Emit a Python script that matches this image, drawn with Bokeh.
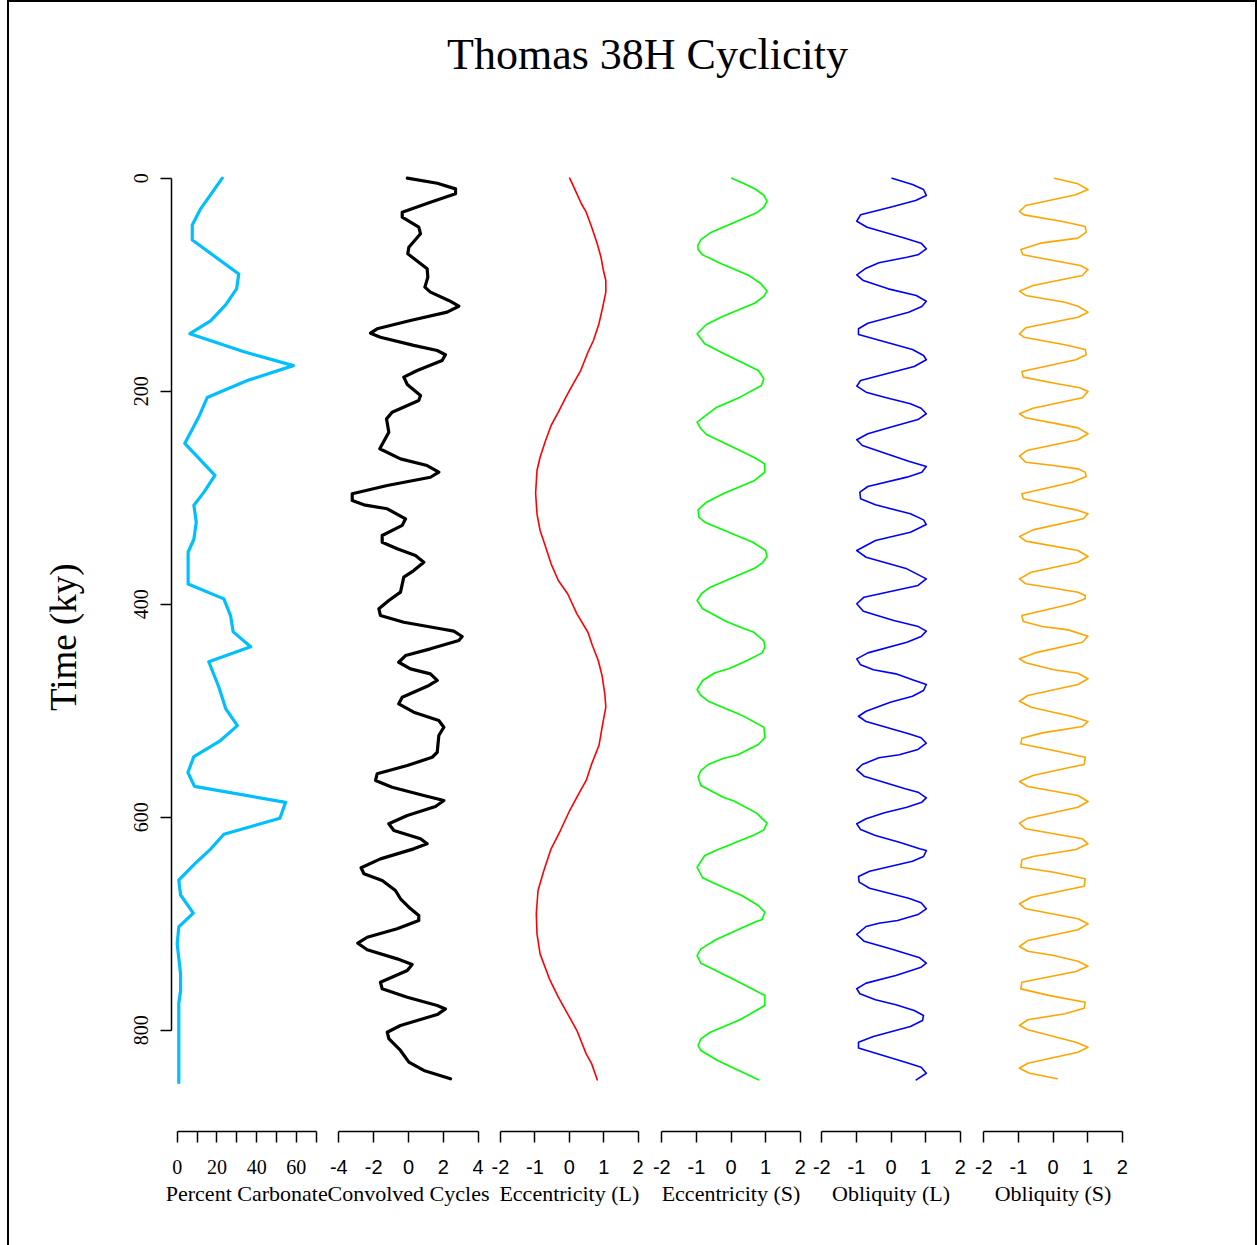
import math
from bokeh.plotting import figure
from bokeh.layouts import row, column
from bokeh.models import Range1d, FixedTicker, Label
from bokeh.embed import file_html
from bokeh.resources import INLINE

TITLE = "Thomas 38H Cyclicity"
Y_LABEL = "Time (ky)"
TIME_TICKS = [0, 200, 400, 600, 800]

# Percent carbonate down core
carb_time = [0, 29, 44, 58, 90, 104, 119, 134, 146, 163, 176, 190, 206, 224, 249, 279,
             295, 307, 323, 339, 351, 381, 395, 411, 426, 440, 454, 478, 498, 514, 528,
             543, 558, 571, 586, 601, 616, 630, 644, 659, 673, 690, 703, 719, 747, 763,
             775, 849]
carb_pct = [22.7, 11.7, 7.6, 7.6, 31.0, 29.9, 24.4, 16.8, 6.4, 33.6, 58.5, 35.3, 15.1, 10.9,
            3.8, 19.0, 13.4, 8.4, 9.6, 8.4, 5.5, 5.5, 23.5, 26.9, 28.2, 37.0, 15.9, 21.0,
            24.4, 30.3, 21.8, 8.4, 5.4, 8.7, 54.6, 51.7, 23.5, 16.8, 8.7, 0.8, 1.7, 8.1,
            0.8, 0.0, 1.7, 1.7, 0.8, 0.8]

# Convolved orbital cycles
conv_time = [0, 4.7, 10, 14.6, 22.5, 31.9, 36.6, 46, 52.2, 64.8, 71, 85, 93, 102.3, 107,
             114.8, 120.2, 125.8, 133.6, 141.4, 145.5, 149.3, 157, 161.8, 165.8, 171.2,
             180.6, 186.8, 193.7, 204, 208.7, 219.7, 226, 238.5, 254, 263.5, 269.8, 276,
             280.8, 288.5, 296.3, 302.6, 306.7, 310.4, 319.8, 326, 335.5, 341.8, 348,
             354.3, 360.6, 368.4, 374.6, 388.7, 396.5, 404.3, 410.6, 416.9, 423, 425.3,
             430.3, 434, 441.9, 448.2, 454.5, 460.7, 465.4, 471.6, 476.3, 487.3, 493.5,
             501.4, 509.2, 515.5, 523.3, 539, 543.7, 551.5, 559.2, 565.5, 571.8, 579.6,
             584.3, 590, 598.4, 606.2, 612.5, 620.3, 625, 629.7, 639.1, 647.5, 653.1,
             659.4, 668.8, 676.6, 684.5, 692.3, 697, 704.8, 712.7, 718.3, 724.5, 733,
             738.3, 744, 755, 761.1, 769, 776.8, 780, 785.3, 795.6, 801.9, 808, 819, 830,
             837.8, 845.6]
conv_value = [-0.07, 1.65, 2.7, 2.7, 1.26, -0.36, -0.36, 0.59, 0.69, 0.02, -0.04, 1.07, 1.11,
              0.94, 1.26, 2.31, 2.89, 2.22, 0.11, -1.8, -2.18, -1.61, 0.3, 1.65, 2.12, 1.93,
              0.5, -0.27, -0.07, 0.69, 0.59, -0.94, -1.26, -1.13, -1.65, -0.46, 1.07, 1.74,
              1.26, -1.22, -3.23, -3.23, -2.56, -1.22, -0.17, -0.36, -1.51, -1.51, -0.65,
              0.4, 0.88, 0.3, -0.27, -0.46, -1.13, -1.7, -1.61, -0.27, 1.84, 2.6, 3.08,
              2.89, 1.26, -0.17, -0.56, 0.11, 1.26, 1.65, 1.17, -0.36, -0.56, 0.3, 1.74,
              2.03, 1.74, 1.65, 1.36, -0.07, -1.8, -1.89, -0.94, 0.88, 2.03, 1.55, -0.07,
              -1.13, -0.84, 0.69, 1.07, 0.3, -1.61, -2.72, -2.56, -1.51, -0.75, -0.46, 0.02,
              0.59, 0.59, -0.65, -2.37, -2.91, -2.37, -0.65, 0.21, -0.07, -1.61, -1.51,
              -0.07, 1.65, 2.12, 1.65, -0.46, -1.22, -1.13, -0.46, 0.02, 0.88, 2.41]

# Long eccentricity
eccl_time = [0, 6.9, 14.7, 24, 31.9, 46, 61.6, 74.2, 86.7, 96.1, 107, 121.1, 136.7, 152.4,
             163.4, 180.6, 193.1, 205.6, 219.7, 232.2, 246.3, 262, 274.5, 295.8, 315.1,
             330.8, 343.3, 362.1, 377.7, 390.2, 409, 426.3, 438.8, 452.9, 467, 484.1,
             496.7, 512.3, 532.7, 549.9, 565.5, 578, 593.7, 612.5, 629.7, 650, 668.8,
             690.7, 709.5, 728.3, 751.7, 769, 784.6, 800.3, 822.2, 831.6, 846.6]
eccl_value = [0.01, 0.11, 0.22, 0.35, 0.49, 0.65, 0.81, 0.92, 0.99, 1.06, 1.06, 0.97, 0.86,
              0.70, 0.54, 0.33, 0.11, -0.10, -0.32, -0.53, -0.69, -0.85, -0.94, -0.98,
              -0.94, -0.85, -0.72, -0.53, -0.32, -0.05, 0.22, 0.54, 0.67, 0.84, 0.95, 1.03,
              1.06, 0.97, 0.86, 0.65, 0.49, 0.27, 0.01, -0.26, -0.53, -0.74, -0.91, -0.96,
              -0.94, -0.85, -0.58, -0.32, -0.05, 0.22, 0.49, 0.65, 0.81]

# Short eccentricity
eccs_time = [0, 4.7, 10.6, 16.2, 21.6, 27.2, 32.5, 42.2, 51.3, 57.6, 63.2, 66.9, 72, 80.4,
             91.4, 98.6, 106, 111, 117.4, 129.6, 137.4, 146.1, 155.5, 164.3, 180.6, 188.4,
             194.6, 205.6, 215.6, 229.1, 235.3, 240.7, 257.3, 263.5, 268.2, 276, 283.8,
             296.3, 304.2, 311.4, 318.3, 323, 341.8, 349.6, 355.2, 361.5, 366.2, 384,
             389.7, 396.5, 404.3, 416, 422.2, 426.3, 434.7, 440.4, 445.7, 454.5, 460.7,
             464.4, 471.6, 480.1, 485.7, 491.1, 501.4, 505.1, 515.5, 525.4, 531.7, 541.4,
             544.9, 550.5, 556.2, 562.4, 570.2, 581.2, 585, 596.2, 605.6, 611.9, 616.5,
             620.7, 631.3, 636, 647, 656.9, 662, 673.5, 682.9, 689.2, 696, 698.6, 704.8,
             715.1, 723.6, 729.9, 737.1, 751.7, 763.4, 767.4, 776.8, 790.2, 801.9, 808.1,
             814.4, 819.1, 828.4, 846.6]
eccs_value = [0.02, 0.36, 0.72, 0.95, 1.04, 0.95, 0.74, 0.04, -0.6, -0.87, -0.96, -0.95,
              -0.82, -0.28, 0.52, 0.85, 1.04, 0.95, 0.68, -0.23, -0.71, -0.98, -0.76, -0.23,
              0.79, 0.95, 0.88, 0.26, -0.44, -0.98, -0.87, -0.71, 0.36, 0.74, 0.97, 0.98,
              0.68, -0.23, -0.71, -0.95, -0.93, -0.76, 0.63, 1.0, 1.04, 0.9, 0.68, -0.6,
              -0.84, -0.98, -0.82, -0.15, 0.31, 0.66, 0.95, 0.98, 0.9, 0.36, -0.07, -0.46,
              -0.82, -0.98, -0.87, -0.66, 0.1, 0.36, 0.95, 0.98, 0.79, 0.2, -0.23, -0.66,
              -0.87, -0.95, -0.87, -0.23, 0.1, 0.74, 1.04, 0.95, 0.68, 0.36, -0.44, -0.76,
              -0.98, -0.82, -0.49, 0.31, 0.79, 0.98, 0.9, 0.68, 0.26, -0.44, -0.87, -0.98,
              -0.87, 0.04, 0.74, 0.98, 0.98, 0.26, -0.6, -0.87, -0.95, -0.87, -0.39, 0.79]

# Long obliquity
oblL_time = [0, 5.9, 10.6, 16.2, 20.9, 27.2, 34.4, 40.4, 46, 56.3, 61, 66.3, 71.9, 74.2,
             79.4, 85.1, 90.7, 96.1, 103.9, 110.1, 115.5, 120.5, 125.8, 136.2, 141.4,
             146.8, 160.8, 166.5, 170.5, 176.8, 190, 195.3, 200.9, 205.6, 211.8, 216,
             221.2, 226.6, 233.8, 240, 245.6, 251, 265.7, 270.7, 276, 280.7, 289.5, 294.8,
             301, 306.7, 315.1, 320.8, 325.2, 332.4, 340.2, 349.6, 355.9, 366.8, 376.2,
             382.4, 393.4, 399.6, 406.6, 415.3, 421, 425.3, 430.3, 435.7, 445.7, 451.3,
             456.9, 461.6, 465.4, 471, 475.4, 481, 486.4, 492, 500.5, 505.2, 510.2, 521.7,
             525.4, 530.5, 536.4, 541.4, 544.2, 550.5, 555.5, 561.5, 573.3, 576.5, 581.8,
             585.9, 590.6, 595.9, 601.5, 606.2, 611.6, 617.2, 623.5, 629.7, 631.3, 636.9,
             641.3, 650.7, 655.7, 661, 666.7, 676.1, 680.4, 686, 691.4, 697, 699.5, 702.6,
             710.1, 716.4, 723.6, 732, 737.1, 740.8, 748.6, 755.8, 761.1, 765.8, 771.4,
             776.1, 781.5, 786.2, 790.9, 796.5, 805.9, 811.3, 816.6, 831, 834.8, 840.4,
             846.6]
oblL_value = [0.03, 0.62, 0.94, 1.02, 0.71, -0.02, -0.88, -0.99, -0.69, 0.41, 0.87, 1.02,
              0.78, 0.46, -0.35, -0.75, -0.99, -0.8, -0.08, 0.73, 1.02, 0.89, 0.51, -0.67,
              -0.94, -0.94, 0.62, 0.94, 1.02, 0.67, -0.88, -0.99, -0.72, -0.19, 0.56, 0.87,
              1.02, 0.78, -0.02, -0.67, -0.99, -0.83, 0.51, 1.02, 0.89, 0.46, -0.67, -0.9,
              -0.88, -0.45, 0.56, 0.94, 1.02, 0.56, -0.45, -0.99, -0.72, 0.46, 1.02, 0.78,
              -0.78, -0.99, -0.8, 0.08, 0.79, 1.02, 0.87, 0.46, -0.67, -0.99, -0.88, -0.51,
              0.14, 0.62, 1.02, 0.94, 0.62, -0.02, -0.72, -0.94, -0.72, 0.51, 0.87, 1.02,
              0.78, 0.24, -0.35, -0.83, -0.99, -0.78, 0.41, 0.78, 1.02, 0.89, 0.46, -0.19,
              -0.72, -0.99, -0.88, -0.45, 0.24, 0.83, 1.02, 0.94, 0.62, -0.62, -0.94, -0.92,
              -0.62, 0.51, 0.87, 1.02, 0.78, 0.19, -0.35, -0.72, -0.99, -0.78, -0.02, 0.83,
              1.02, 0.87, 0.14, -0.72, -0.99, -0.9, -0.45, 0.14, 0.67, 0.94, 0.91, 0.56,
              -0.51, -0.94, -0.94, 0.51, 0.87, 1.02, 0.73]

# Short obliquity
oblS_time = [0, 5.3, 10.6, 15.6, 25.6, 31.3, 34.4, 40.7, 45.4, 50.7, 56.3, 61, 66.9, 71.9,
             78.9, 82, 85.7, 91.4, 100.8, 106.1, 110.1, 116.4, 120.2, 125.8, 130.5, 140.5,
             146.1, 149.3, 156.4, 160.8, 165.8, 170.5, 181.5, 186.8, 193, 196.8, 200.3,
             206.2, 216, 221.2, 225, 230, 234.4, 240, 245.6, 255.7, 261, 266.7, 269.8,
             272.9, 276, 280.1, 285.4, 296.3, 301, 307.3, 311.4, 315.1, 319.8, 330.2,
             336.4, 340.8, 349.6, 355.2, 360.6, 370, 376.2, 380.8, 385.5, 388.7, 391.8,
             394.9, 399.6, 410.6, 416.2, 421, 424.1, 430.1, 435.7, 445.7, 451.3, 455,
             461.6, 464.8, 470, 475.4, 485.7, 491.1, 496.7, 505.4, 510.1, 514.8, 520.8,
             525.8, 531.1, 537.4, 543.7, 550.5, 553.6, 560.8, 566.5, 571.2, 579.6, 585.3,
             590.6, 600.9, 605.6, 610.9, 615.6, 620.3, 625, 630.3, 636.9, 640, 647, 651.6,
             657.8, 664.8, 667.2, 675.1, 681.3, 686, 695.4, 700.1, 705.7, 715.8, 721.4,
             725.8, 729.9, 735.2, 739.9, 744.9, 754.9, 761.2, 767.5, 773.7, 779.3, 784.6,
             790.2, 795.6, 799.6, 811.3, 816, 820.7, 831, 835.7, 840.4, 845.6]
oblS_value = [0.04, 0.72, 1.01, 0.66, -0.79, -0.97, -0.84, 0.28, 0.93, 0.96, 0.72, -0.36,
              -0.93, -0.87, 0.28, 0.79, 1.01, 0.85, -0.58, -0.97, -0.79, 0.34, 0.72, 1.01,
              0.72, -0.79, -0.97, -0.84, 0.34, 0.93, 0.96, 0.66, -0.9, -0.86, 0.12, 0.77,
              1.01, 0.85, -0.58, -0.97, -0.79, 0.02, 0.72, 1.01, 0.72, -0.76, -0.97, -0.79,
              0.02, 0.72, 0.93, 0.96, 0.55, -0.9, -0.86, 0.02, 0.66, 1.01, 0.87, -0.58,
              -0.97, -0.79, 0.72, 1.01, 0.72, -0.63, -0.97, -0.79, 0.12, 0.72, 0.93, 0.93,
              0.55, -0.9, -0.86, -0.31, 0.44, 1.01, 0.85, -0.52, -0.97, -0.79, 0.02, 0.72,
              1.01, 0.72, -0.73, -0.97, -0.63, 0.55, 1.01, 0.85, -0.31, -0.9, -0.93, 0.02,
              0.93, 0.9, 0.44, -0.58, -0.97, -0.73, 0.72, 1.01, 0.72, -0.73, -0.97, -0.79,
              0.02, 0.85, 1.01, 0.66, -0.58, -0.9, -0.93, 0.02, 0.93, 0.9, 0.55, -0.63,
              -0.97, -0.79, 0.72, 1.01, 0.72, -0.73, -0.97, -0.73, 0.02, 0.72, 1.01, 0.66,
              -0.9, -0.93, -0.09, 0.93, 0.9, 0.34, -0.73, -0.97, -0.73, 0.66, 1.01, 0.72,
              -0.73, -0.97, -0.68, 0.12]

SERIF = "Liberation Serif"
SANS = "Liberation Sans"

# page geometry (content box sits inside a 2px frame, 9px from the left edge)
CONTENT_W = 1246
HEAD_H = 150
ROW_H = 1027
FOOT_H = 73
BORDER_TOP = 18
FRAME_H = 961
BORDER_BOTTOM = ROW_H - BORDER_TOP - FRAME_H
STRIP_W = 100           # left strip holding the depth-axis title
LEFT_PAD = 62           # room for the depth ticks and their labels

# shared depth scale (reversed: 0 ky at the top)
Y_TOP, Y_BOTTOM = -7.23, 895.1
depth_range = Range1d(Y_BOTTOM, Y_TOP)

panels = [
    dict(x=carb_pct, t=carb_time, xr=(-2.87, 75.68), w=156, ticks=list(range(0, 71, 10)),
         bounds=(0, 70), label="Percent Carbonate", color="#00BFFF", lw=3.2, font=SERIF,
         hide=[10, 30, 50, 70]),
    dict(x=conv_value, t=conv_time, xr=(-4.65, 4.65), w=162, ticks=[-4, -2, 0, 2, 4],
         bounds=(-4, 4), label="Convolved Cycles", color="black", lw=3.2, font=SANS, hide=[]),
    dict(x=eccl_value, t=eccl_time, xr=(-2.32, 2.358), w=161, ticks=[-2, -1, 0, 1, 2],
         bounds=(-2, 2), label="Eccentricity (L)", color="#FF0000", lw=1.6, font=SANS, hide=[]),
    dict(x=eccs_value, t=eccs_time, xr=(-2.327, 2.298), w=160, ticks=[-2, -1, 0, 1, 2],
         bounds=(-2, 2), label="Eccentricity (S)", color="#00FF00", lw=1.6, font=SANS, hide=[]),
    dict(x=oblL_value, t=oblL_time, xr=(-2.327, 2.355), w=162, ticks=[-2, -1, 0, 1, 2],
         bounds=(-2, 2), label="Obliquity (L)", color="#0000FF", lw=1.6, font=SANS, hide=[]),
    dict(x=oblS_value, t=oblS_time, xr=(-2.327, 2.384), w=163, ticks=[-2, -1, 0, 1, 2],
         bounds=(-2, 2), label="Obliquity (S)", color="#FFA500", lw=1.6, font=SANS, hide=[]),
]


def style_axis(ax, font):
    ax.axis_line_width = 1.5
    ax.major_tick_line_width = 1.5
    ax.major_tick_out = 11
    ax.major_tick_in = 0
    ax.minor_tick_out = 0
    ax.minor_tick_in = 0
    ax.major_label_text_font = font
    ax.major_label_text_font_size = "20px"
    ax.major_label_text_color = "black"


def bare(fig):
    fig.outline_line_color = None
    fig.grid.visible = False
    fig.background_fill_color = "white"
    fig.border_fill_color = "white"


# strip on the far left with the depth-axis title
strip = figure(width=STRIP_W, height=ROW_H, x_range=Range1d(0, STRIP_W), y_range=depth_range,
               output_backend="svg", toolbar_location=None, min_border_left=0,
               min_border_right=0, min_border_top=BORDER_TOP, min_border_bottom=BORDER_BOTTOM,
               x_axis_location=None, y_axis_location=None)
bare(strip)
strip.add_layout(Label(x=54, y=431, text=Y_LABEL, angle=math.pi / 2, text_font=SERIF,
                       text_font_size="37px", text_align="center", text_baseline="middle",
                       text_color="black"))

figs = [strip]
label_pos = []          # content-x of each panel's axis centre, for the titles below
frame_left = STRIP_W + LEFT_PAD
for i, spec in enumerate(panels):
    first = i == 0
    last = i == len(panels) - 1
    left = LEFT_PAD if first else 0
    right = CONTENT_W - (frame_left + spec["w"]) if last else 0
    p = figure(width=left + spec["w"] + right, height=ROW_H,
               x_range=Range1d(*spec["xr"]), y_range=depth_range,
               output_backend="svg", toolbar_location=None,
               min_border_left=left, min_border_right=right,
               min_border_top=BORDER_TOP, min_border_bottom=BORDER_BOTTOM,
               x_axis_location="below", y_axis_location="left" if first else None)
    bare(p)

    p.line(spec["x"], spec["t"], line_color=spec["color"], line_width=spec["lw"],
           line_join="round", line_cap="round")

    ax = p.xaxis[0]
    ax.ticker = FixedTicker(ticks=spec["ticks"], minor_ticks=[])
    ax.bounds = spec["bounds"]
    overrides = {k: "" for k in spec["hide"]}
    overrides.update({k: "-%d" % abs(k) for k in spec["ticks"] if k < 0})
    ax.major_label_overrides = overrides
    style_axis(ax, spec["font"])
    ax.major_label_standoff = 17

    x0, x1 = spec["xr"]
    mid = 0.5 * (spec["bounds"][0] + spec["bounds"][1])
    label_pos.append(frame_left + (mid - x0) / (x1 - x0) * spec["w"])
    frame_left += spec["w"]

    if first:
        ay = p.yaxis[0]
        ay.ticker = FixedTicker(ticks=TIME_TICKS, minor_ticks=[])
        ay.bounds = (0, 800)
        style_axis(ay, SERIF)
        ay.major_label_orientation = "parallel"
        ay.major_label_standoff = 12
    figs.append(p)

# title strip across the top
head = figure(width=CONTENT_W, height=HEAD_H, x_range=Range1d(0, CONTENT_W),
              y_range=Range1d(HEAD_H, 0), output_backend="svg", toolbar_location=None,
              min_border=0, x_axis_location=None, y_axis_location=None)
bare(head)
head.add_layout(Label(x=638, y=52, text=TITLE, text_font=SERIF, text_font_size="44px",
                      text_align="center", text_baseline="middle", text_color="black"))

# strip under the panels carrying each column's axis title
foot = figure(width=CONTENT_W, height=FOOT_H, x_range=Range1d(0, CONTENT_W),
              y_range=Range1d(FOOT_H, 0), output_backend="svg", toolbar_location=None,
              min_border=0, x_axis_location=None, y_axis_location=None)
bare(foot)
for xc, spec in zip(label_pos, panels):
    foot.add_layout(Label(x=xc, y=13.5, text=spec["label"], text_font=SERIF,
                          text_font_size="22px", text_align="center",
                          text_baseline="middle", text_color="black"))

layout = column(head, row(*figs), foot, margin=(0, 0, 0, 7),
                styles={"border": "2px solid black"})

open("out.html", "w").write(file_html(layout, INLINE))
